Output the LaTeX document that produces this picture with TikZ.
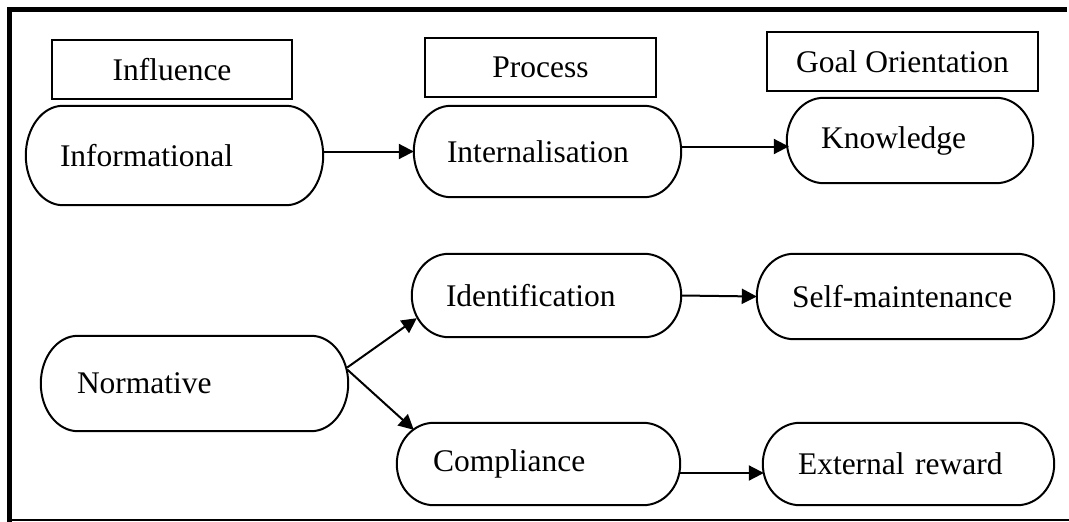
\documentclass[tikz,border=0pt]{standalone}
\usepackage{fontspec}
\setmainfont{Liberation Serif}
\usetikzlibrary{arrows.meta,calc}
\tikzset{
  lbl/.style={font=\fontsize{31.5pt}{36pt}\selectfont},
  headbox/.style={lbl, draw, line width=1.1pt, minimum height=59pt, inner sep=0pt},
  stad/.style={lbl, align=left},
  stadline/.style={line width=2pt},
  arr/.style={line width=2pt, -{Triangle[length=15pt,width=15pt]}},
  frame/.style={line width=4.5pt, line cap=rect},
}
\newcommand\stadoutline[2]{%
  \draw[stadline] let \p1=(#1.north west), \p2=(#1.south east), \n1={(\y1-\y2)/2} in
    (\x1+#2,\y1) -- (\x2-#2,\y1)
    arc[start angle=90,end angle=-90,x radius=#2,y radius=\n1]
    -- (\x1+#2,\y2)
    arc[start angle=270,end angle=90,x radius=#2,y radius=\n1] -- cycle;}
\begin{document}
\begin{tikzpicture}[x=1pt,y=-1pt]
\useasboundingbox (0,0) rectangle (1069,522);
% frame
\draw[frame] (1065,9.5) -- (9.5,9.5) -- (9.5,521);
\draw[line width=1.6pt] (9.5,520) -- (1069,520);
% headers
\node[headbox, minimum width=240pt] (hinf) at (172,69.5) {Influence};
\node[headbox, minimum width=231pt] (hproc) at (540.5,67.5) {Process};
\node[headbox, minimum width=271pt] (hgoal) at (902.5,61.5) {Goal Orientation};
% stadiums
\node[stad, minimum height=99pt, inner xsep=34pt, text width=229pt] (inf) at (174.5,155.5) {Informational};
\node[stad, minimum height=91pt, inner xsep=33pt, text width=201pt] (int) at (547.5,151.5) {Internalisation};
\node[stad, minimum height=85pt, inner xsep=34pt, text width=178pt] (know) at (910,140.5) {Knowledge};
\node[stad, minimum height=95pt, inner xsep=36pt, text width=235pt] (norm) at (194.5,383.5) {Normative};
\node[stad, minimum height=83pt, inner xsep=34pt, text width=201pt] (ident) at (546.5,295.5) {Identification};
\node[stad, minimum height=82pt, inner xsep=36pt, text width=211pt] (comp) at (538.5,464) {Compliance};
\node[stad, minimum height=85pt, inner xsep=35pt, text width=227pt] (self) at (905.5,296.5) {Self-maintenance};
\node[stad, minimum height=82pt, inner xsep=35pt, text width=221pt] (ext) at (908.5,464) {External reward};
\stadoutline{inf}{37pt}
\stadoutline{int}{37pt}
\stadoutline{know}{37pt}
\stadoutline{norm}{37pt}
\stadoutline{ident}{37pt}
\stadoutline{comp}{37pt}
\stadoutline{self}{37pt}
\stadoutline{ext}{37pt}
% arrows
\draw[arr] (int.west -| inf.east) -- (int.west);
\draw[arr] ([yshift=5pt]int.east) -- ([yshift=5pt,xshift=2pt]int.east -| know.west);
\draw[arr] (ident.east) -- (self.west);
\draw[arr] ([yshift=-9pt]comp.east) -- ([yshift=-9pt,xshift=1pt]ext.west);
\draw[arr] ([yshift=16pt,xshift=-1pt]norm.east) -- ([xshift=5pt,yshift=19pt]ident.south west);
\draw[arr] ([yshift=14pt,xshift=-1pt]norm.east) -- ([xshift=17pt,yshift=-7pt]comp.north west);
\end{tikzpicture}
\end{document}
